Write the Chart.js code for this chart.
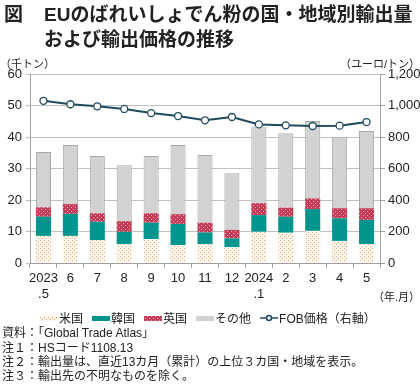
<!DOCTYPE html>
<html>
<head>
<meta charset="utf-8">
<script src="https://cdn.jsdelivr.net/npm/chart.js@4"></script>
<style>
  body { margin: 0; background: #fff; }
  #wrap { position: relative; width: 420px; height: 384px; overflow: hidden;
          font-family: "Liberation Sans", "Noto Sans CJK JP", sans-serif; color: #222; }
  #c { position: absolute; left: 0; top: 0; }
  .t { position: absolute; white-space: nowrap; }
  .title { font-size: 19px; font-weight: bold; line-height: 24px; }
  .note { font-size: 12px; left: 2px; line-height: 15px; }
  .unit { font-size: 11px; }
  #legend { position: absolute; left: 40px; top: 309px; font-size: 12px; display: flex; gap: 9px; align-items: center; }
  #legend span.item { display: flex; align-items: center; gap: 1px; }
  #legend canvas { display: block; }
</style>
</head>
<body>
<div id="wrap">
  <canvas id="c" width="420" height="384"></canvas>
  <div class="t title" style="left:4px; top:3px;">図</div>
  <div class="t title" style="left:44px; top:3px;">EUのばれいしょでん粉の国・地域別輸出量</div>
  <div class="t title" style="left:44px; top:28px;">および輸出価格の推移</div>
  <div class="t unit" style="left:0px; top:55px;">（千トン）</div>
  <div class="t unit" style="right:0px; top:55px;">（ユーロ/トン）</div>
  <div class="t unit" style="right:0px; top:288px;">（年.月）</div>
  <div id="legend"></div>
  <div class="t note" style="top:326px;">資料：「Global Trade Atlas」</div>
  <div class="t note" style="top:341px;">注１：HSコード1108.13</div>
  <div class="t note" style="top:355px;">注２：輸出量は、直近13カ月（累計）の上位３カ国・地域を表示。</div>
  <div class="t note" style="top:369px;">注３：輸出先の不明なものを除く。</div>
</div>
<script>
// data
var months = [['2023', '.5'], '6', '7', '8', '9', '10', '11', '12', ['2024', '.1'], '2', '3', '4', '5'];
var usVol    = [8.6, 8.6, 7.3, 6.0, 7.6, 5.7, 6.0, 5.0, 9.9, 9.6, 10.2, 7.0, 6.0];
var koreaVol = [6.1, 7.0, 5.8, 3.9, 5.2, 6.7, 3.7, 2.8, 5.3, 5.1, 6.9, 7.2, 7.7];
var ukVol    = [3.0, 3.1, 2.7, 3.4, 3.0, 3.1, 3.1, 2.7, 3.8, 2.9, 3.4, 3.2, 3.7];
var otherVol = [17.5, 18.8, 18.2, 17.7, 18.2, 22.0, 21.5, 18.0, 24.1, 23.6, 24.6, 22.5, 24.5];
var fobPrice = [1030, 1008, 995, 978, 952, 933, 906, 927, 880, 874, 870, 872, 895];
var leftTicks = [0, 10, 20, 30, 40, 50, 60];
var rightTicks = [0, 200, 400, 600, 800, 1000, 1200];

var lineColor = '#1e4b5e';
var tealColor = '#00968f';
var grayColor = '#d2d2d2';

function makePattern(bg, fg, dots) {
    var p = document.createElement('canvas');
    p.width = 4; p.height = 4;
    var g = p.getContext('2d');
    g.fillStyle = bg;
    g.fillRect(0, 0, 4, 4);
    g.fillStyle = fg;
    dots.forEach(function(d) { g.fillRect(d[0], d[1], 1, 1); });
    return g.createPattern(p, 'repeat');
}
var usPattern = makePattern('#fdf6ec', '#e3a862', [[0, 0], [2, 2]]);
var ukPattern = makePattern('#c43c57', '#eaa3b0', [[1, 1], [3, 3]]);

// legend
var legendItems = [
    {label: '米国', fill: usPattern},
    {label: '韓国', fill: tealColor},
    {label: '英国', fill: ukPattern},
    {label: 'その他', fill: grayColor},
    {label: 'FOB価格（右軸）', line: true}
];
var legendDiv = document.getElementById('legend');
legendItems.forEach(function(it) {
    var span = document.createElement('span');
    span.className = 'item';
    var cv = document.createElement('canvas');
    cv.width = 18; cv.height = 10;
    var g = cv.getContext('2d');
    if (it.line) {
        g.strokeStyle = lineColor; g.lineWidth = 1.5;
        g.beginPath(); g.moveTo(0, 5); g.lineTo(18, 5); g.stroke();
        g.fillStyle = '#fff';
        g.beginPath(); g.arc(9, 5, 2.5, 0, Math.PI * 2); g.fill(); g.stroke();
    } else {
        g.fillStyle = it.fill;
        g.fillRect(0, 3, 18, 5);
    }
    span.appendChild(cv);
    var txt = document.createElement('span');
    txt.textContent = it.label;
    span.appendChild(txt);
    legendDiv.appendChild(span);
});

var tickFont = {family: '"Liberation Sans", Arial, sans-serif', size: 13};

var ctx = document.getElementById('c');
var chart = new Chart(ctx, {
    type: 'bar',
    data: {
        labels: months,
        datasets: [
            {type: 'line', label: 'FOB価格（右軸）', data: fobPrice, yAxisID: 'y1',
             borderColor: lineColor, borderWidth: 2, pointRadius: 3.5,
             pointBackgroundColor: '#fff', pointBorderColor: lineColor, pointBorderWidth: 1.3,
             tension: 0, order: 0},
            {label: '米国', data: usVol, backgroundColor: usPattern, stack: 's', order: 1},
            {label: '韓国', data: koreaVol, backgroundColor: tealColor, stack: 's', order: 1},
            {label: '英国', data: ukVol, backgroundColor: ukPattern, stack: 's', order: 1},
            {label: 'その他', data: otherVol, backgroundColor: grayColor, borderColor: '#a8a8a8',
             borderWidth: 1, stack: 's', order: 1}
        ]
    },
    options: {
        responsive: false,
        animation: false,
        layout: {padding: {top: 74, left: 0, right: 0, bottom: 0}},
        datasets: {bar: {barPercentage: 0.56, categoryPercentage: 1}},
        plugins: {legend: {display: false}, tooltip: {enabled: false}},
        scales: {
            x: {
                stacked: true,
                grid: {display: true, drawOnChartArea: false, drawTicks: true, tickLength: 5, color: '#a0a0a0', offset: true},
                border: {color: '#a0a0a0'},
                ticks: {font: tickFont, color: '#222', padding: 3, maxRotation: 0, autoSkip: false},
                afterFit: function(s) { s.height = 121; }
            },
            y: {
                stacked: true, min: 0, max: 60,
                afterBuildTicks: function(s) { s.ticks = leftTicks.map(function(v) { return {value: v}; }); },
                grid: {color: '#c0c0c0', tickLength: 4},
                border: {color: '#a0a0a0'},
                ticks: {font: tickFont, color: '#222', padding: 4},
                afterFit: function(s) { s.width = 30; }
            },
            y1: {
                position: 'right', min: 0, max: 1200,
                afterBuildTicks: function(s) { s.ticks = rightTicks.map(function(v) { return {value: v}; }); },
                grid: {drawOnChartArea: false, tickLength: 5, color: '#a0a0a0'},
                border: {color: '#a0a0a0'},
                ticks: {font: tickFont, color: '#222', padding: 3,
                        callback: function(v) { return v.toLocaleString('en-US'); }},
                afterFit: function(s) { s.width = 40; }
            }
        }
    }
});
</script>
</body>
</html>
